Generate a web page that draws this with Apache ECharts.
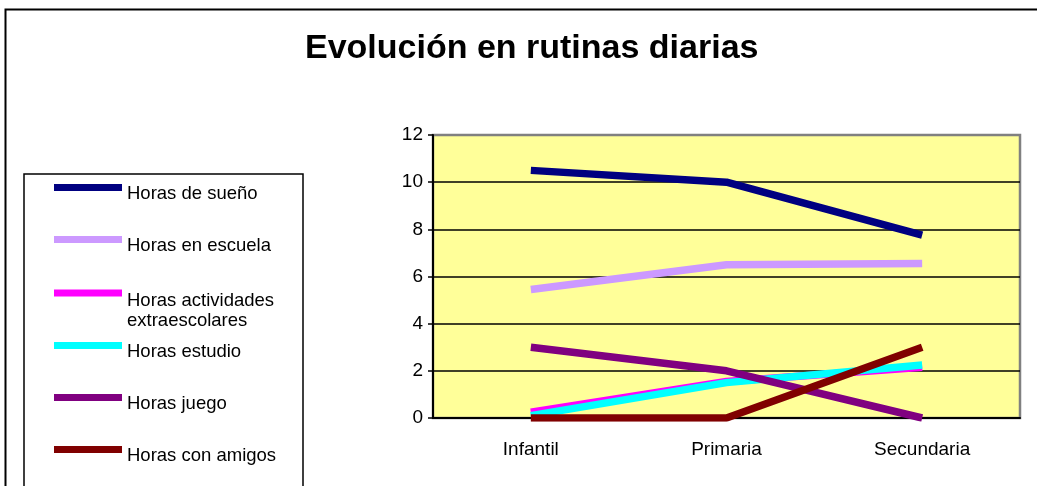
<!DOCTYPE html>
<html style="height: 100%">
<head>
    <meta charset="utf-8">
    <title>Evolución en rutinas diarias</title>
</head>
<body style="height: 100%; margin: 0; background: #fff">
<div id="container" style="width:1037px;height:486px"></div>
<script type="text/javascript" src="https://cdn.jsdelivr.net/npm/echarts@6/dist/echarts.min.js"></script>
<script type="text/javascript">
// datos
var categorias = ['Infantil', 'Primaria', 'Secundaria'];
var horas_sueno = [10.5, 10, 7.75];
var horas_escuela = [5.45, 6.5, 6.55];
var horas_extraescolares = [0.25, 1.55, 2.15];
var horas_estudio = [0.1, 1.5, 2.25];
var horas_juego = [3, 2, 0];
var horas_amigos = [0, 0, 3];

var nombres = ['Horas de sueño', 'Horas en escuela', 'Horas actividades extraescolares',
    'Horas estudio', 'Horas juego', 'Horas con amigos'];
var valores = [horas_sueno, horas_escuela, horas_extraescolares, horas_estudio, horas_juego, horas_amigos];
var colores = ['#000080', '#CC99FF', '#FF00FF', '#00FFFF', '#800080', '#800000'];

var fuente = 'Liberation Sans, Arial, sans-serif';
var dom = document.getElementById('container');
var myChart = echarts.init(dom);

// centro vertical de cada linea de la leyenda
var leyenda_y = [187.5, 239.5, 293.5, 345.5, 397.5, 449.5];
var leyendas = [];
var series = [];
for (var i = 0; i < nombres.length; i++) {
    var dos_lineas = nombres[i] == 'Horas actividades extraescolares';
    leyendas.push({
        data: [nombres[i]],
        selectedMode: false,
        left: 54,
        top: leyenda_y[i] - (dos_lineas ? 38 : 16),
        padding: 0,
        icon: 'rect',
        itemWidth: 68,
        itemHeight: 7,
        formatter: function (name) {
            if (name == 'Horas actividades extraescolares') {
                return '{b|Horas actividades}\n{b|extraescolares}';
            }
            return '{a|' + name + '}';
        },
        textStyle: {
            fontFamily: fuente,
            fontSize: 18.5,
            color: '#000',
            rich: {
                a: {fontFamily: fuente, fontSize: 18.5, color: '#000', lineHeight: 20, padding: [13, 0, 0, 0]},
                b: {fontFamily: fuente, fontSize: 18.5, color: '#000', lineHeight: 20, padding: [36, 0, 0, 0]}
            }
        }
    });
    series.push({
        name: nombres[i],
        type: 'line',
        data: valores[i],
        symbol: 'none',
        showSymbol: false,
        color: colores[i],
        lineStyle: {width: 7.5, color: colores[i]},
        itemStyle: {color: colores[i]},
        animation: false
    });
}

var option = {
    backgroundColor: '#fff',
    animation: false,
    title: {
        text: 'Evolución en rutinas diarias',
        left: 305,
        top: 32,
        padding: 0,
        textStyle: {fontFamily: fuente, fontSize: 34, fontWeight: 'bold', color: '#000'}
    },
    legend: leyendas,
    grid: {
        left: 433,
        right: 17,
        top: 135,
        bottom: 68,
        show: true,
        backgroundColor: '#FFFF99',
        borderColor: '#808080',
        borderWidth: 2.5
    },
    xAxis: {
        type: 'category',
        data: categorias,
        boundaryGap: true,
        axisLine: {lineStyle: {color: '#000', width: 2}},
        axisTick: {length: 5, lineStyle: {color: '#000', width: 1.5}},
        axisLabel: {fontFamily: fuente, fontSize: 19, color: '#000', margin: 22}
    },
    yAxis: {
        type: 'value',
        min: 0,
        max: 12,
        interval: 2,
        axisLine: {show: true, lineStyle: {color: '#000', width: 2}},
        axisTick: {show: true, length: 5, lineStyle: {color: '#000', width: 1.5}},
        axisLabel: {fontFamily: fuente, fontSize: 19, color: '#000', margin: 10},
        splitLine: {
            show: true,
            lineStyle: {color: ['#000', '#000', '#000', '#000', '#000', '#000', '#808080'], width: 1.5}
        }
    },
    graphic: [
        {
            type: 'rect',
            shape: {x: 5.5, y: 9.5, width: 1100, height: 600},
            style: {fill: 'none', stroke: '#000', lineWidth: 2}
        },
        {
            type: 'rect',
            shape: {x: 24, y: 174, width: 279, height: 400},
            style: {fill: 'none', stroke: '#000', lineWidth: 1.5}
        }
    ],
    series: series
};
myChart.setOption(option);
</script>
</body>
</html>
